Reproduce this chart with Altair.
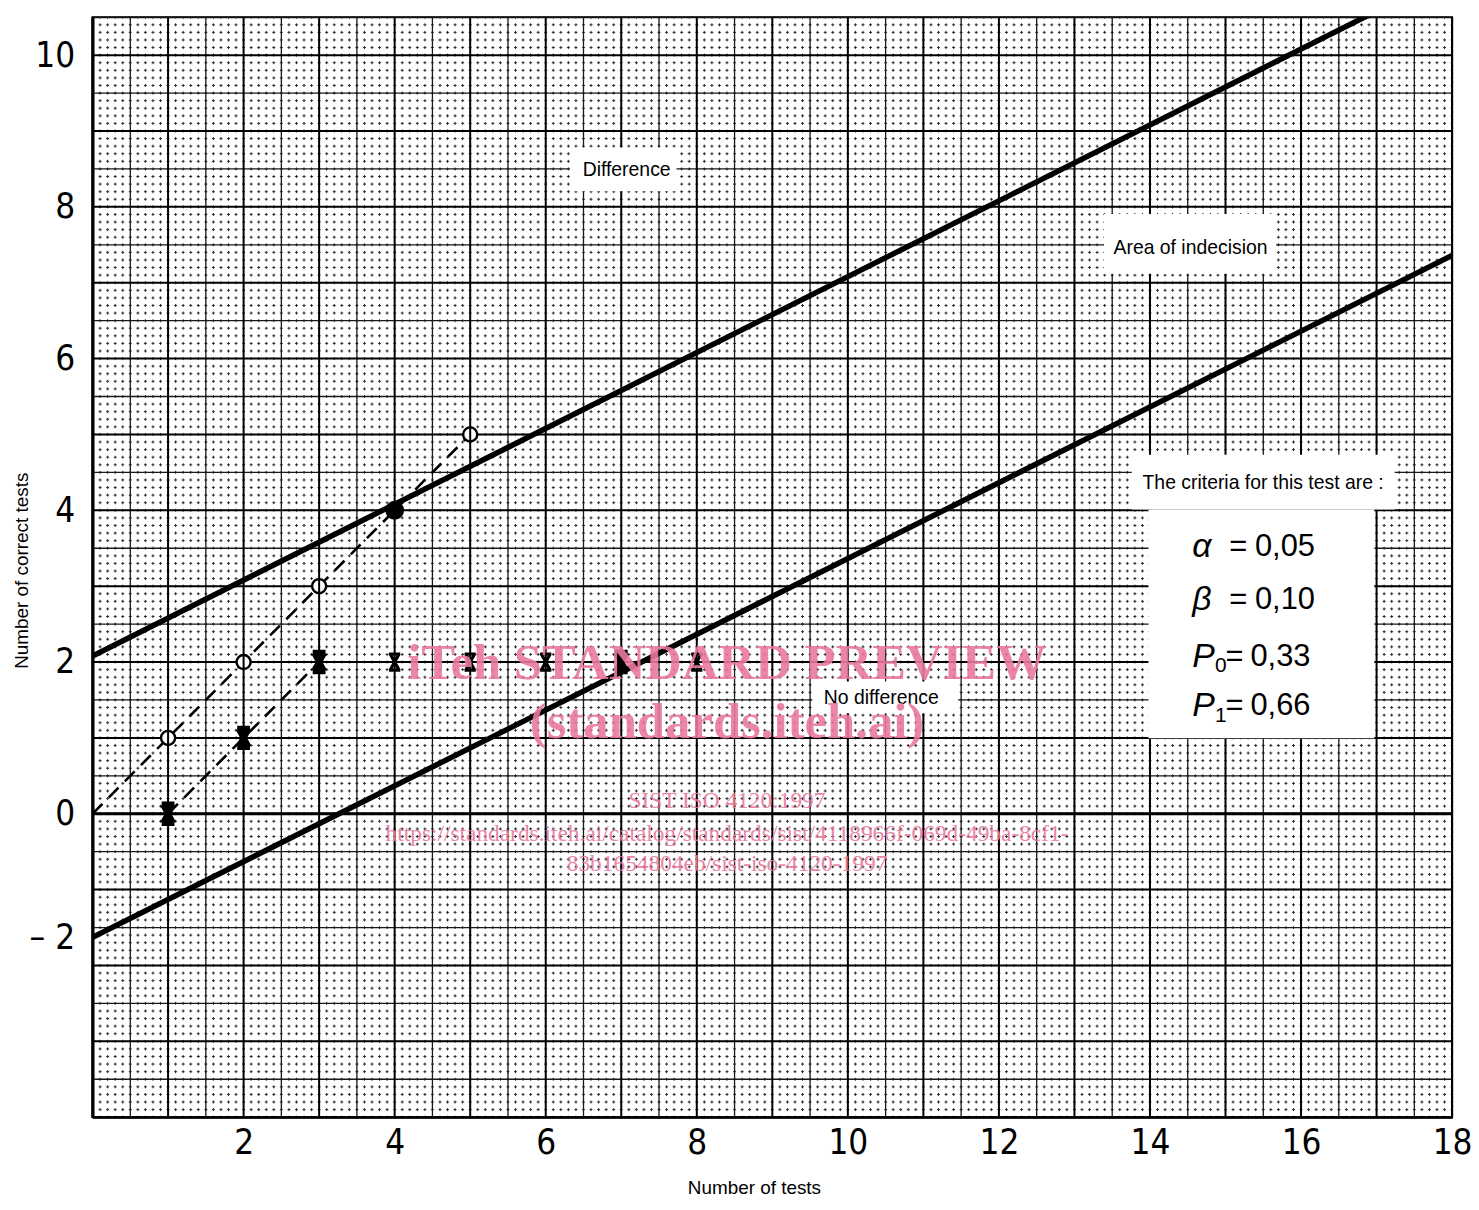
import altair as alt
import numpy as np
import pandas as pd

# ---------------- data ----------------
circle_tests = [1, 2, 3, 4, 5]
circle_correct = [1, 2, 3, 4, 5]
circle_filled = [False, False, False, True, False]

cross_tests = [1, 2, 3, 4, 5, 6, 7, 8]
cross_correct = [0, 1, 2, 2, 2, 2, 2, 2]
cross_heavy = [True, True, True, False, False, False, True, False]

path_a_tests = [0, 1, 2, 3, 4, 5]
path_a_correct = [0, 1, 2, 3, 4, 5]
path_b_tests = [1, 2, 3]
path_b_correct = [0, 1, 2]

upper_tests = [0, 18]
upper_correct = [2.08, 11.08]
lower_tests = [0, 18]
lower_correct = [-1.63, 7.36]

x_ticks = [2, 4, 6, 8, 10, 12, 14, 16, 18]
y_ticks = [10, 8, 6, 4, 2, 0, -1.63]
X_DOM = [0, 18]
Y_DOM = [-4, 10.5]

notes_text = ["Difference", "Area of indecision", "No difference", "The criteria for this test are :"]
notes_x = [7.071, 14.537, 10.442, 15.498]
notes_y = [8.482, 7.460, 1.521, 4.366]

box_x = [6.32, 13.39, 9.53, 13.76, 13.98]
box_x2 = [7.73, 15.67, 11.46, 17.24, 16.97]
box_y = [8.784, 7.905, 1.744, 4.733, 4.012]
box_y2 = [8.207, 7.119, 1.324, 4.012, 0.996]

crit_symbol = ["α", "β", "P", "P"]
crit_sub = ["", "", "0", "1"]
crit_value = ["0,05", "0,10", "0,33", "0,66"]
crit_row_y = [3.514, 2.819, 2.071, 1.416]

wm_text = ["iTeh STANDARD PREVIEW", "(standards.iteh.ai)", "SIST ISO 4120:1997",
           "https://standards.iteh.ai/catalog/standards/sist/4118966f-069d-49ba-8cf1-",
           "83b1654804eb/sist-iso-4120-1997"]
wm_y = [1.967, 1.193, 0.170, -0.262, -0.669]
wm_weight = ["bold", "bold", "normal", "normal", "normal"]

# ---------------- layout ----------------
W, H = 1367, 1106
xs = alt.Scale(domain=X_DOM, nice=False, zero=False)
ys = alt.Scale(domain=Y_DOM, nice=False, zero=False)
px_x = W / (X_DOM[1] - X_DOM[0]) / 10.0
px_y = H / (Y_DOM[1] - Y_DOM[0]) / 10.0

TICK_FONT = "Liberation Sans Narrow, DejaVu Sans Condensed, Liberation Sans, sans-serif"
SANS = "Liberation Sans, Arial, sans-serif"
SERIF = "Liberation Serif, Times New Roman, serif"

x_axis = alt.Axis(values=x_ticks, format="d", ticks=False, grid=False, domain=True,
                  domainColor="black", domainWidth=2, labelFont=TICK_FONT, labelFontSize=35,
                  labelColor="black", labelPadding=9, labelFlush=False, labelOverlap=False,
                  title="Number of tests", titleFont=SANS, titleFontSize=19,
                  titleFontWeight="normal", titleColor="black", titleX=665, titleY=71,
                  titleBaseline="middle")
y_axis = alt.Axis(values=y_ticks, labelExpr="datum.value < -1 ? '– 2' : format(datum.value, 'd')",
                  ticks=False, grid=False, domain=True, domainColor="black", domainWidth=3,
                  labelFont=TICK_FONT, labelFontSize=35, labelColor="black", labelPadding=18,
                  labelAlign="right", labelBaseline="middle", labelFlush=False, labelOverlap=False,
                  title="Number of correct tests", titleFont=SANS, titleFontSize=19,
                  titleFontWeight="normal", titleColor="black", titleX=-71, titleY=556,
                  titleBaseline="middle")


def X(f):
    return alt.X(f, scale=xs, axis=x_axis)


def Y(f):
    return alt.Y(f, scale=ys, axis=y_axis)


# graph-paper grid
gx = np.round(np.arange(0, 180 + 1) / 10.0, 2)
gy = np.round(np.arange(-40, 105 + 1) / 10.0, 2)


def is_half(v):
    return abs(v * 2 - round(v * 2)) < 1e-6 and abs(v - round(v)) > 1e-6


def is_int(v):
    return abs(v - round(v)) < 1e-6


fine_v = pd.DataFrame({"x": gx})
fine_h = pd.DataFrame({"y": gy})
mid_v = pd.DataFrame({"x": [v for v in gx if is_half(v)]})
mid_h = pd.DataFrame({"y": [v for v in gy if is_half(v)]})
thick_v = pd.DataFrame({"x": [v for v in gx if is_int(v)]})
thick_h = pd.DataFrame({"y": [v for v in gy if is_int(v)]})

dash_w = 3.0
l_fine_v = alt.Chart(fine_v).mark_rule(
    color="#2a2a2a", strokeWidth=1, strokeDash=[dash_w, px_y - dash_w], strokeDashOffset=dash_w / 2
).encode(x=X("x:Q"))
l_fine_h = alt.Chart(fine_h).mark_rule(
    color="#2a2a2a", strokeWidth=1, strokeDash=[dash_w, px_x - dash_w], strokeDashOffset=dash_w / 2
).encode(y=Y("y:Q"))
l_mid_v = alt.Chart(mid_v).mark_rule(color="#1a1a1a", strokeWidth=1.3).encode(x=X("x:Q"))
l_mid_h = alt.Chart(mid_h).mark_rule(color="#1a1a1a", strokeWidth=1.3).encode(y=Y("y:Q"))
l_thick_v = alt.Chart(thick_v).mark_rule(color="#000", strokeWidth=2).encode(x=X("x:Q"))
l_thick_h = alt.Chart(thick_h).mark_rule(color="#000", strokeWidth=2).encode(y=Y("y:Q"))

boxes = pd.DataFrame({"x": box_x, "x2": box_x2, "y": box_y, "y2": box_y2})
l_boxes = alt.Chart(boxes).mark_rect(color="white").encode(x=X("x:Q"), x2="x2:Q", y=Y("y:Q"), y2="y2:Q")

l_zero = alt.Chart(pd.DataFrame({"y": [0]})).mark_rule(color="black", strokeWidth=3.2).encode(y=Y("y:Q"))

lines = pd.DataFrame({
    "tests": upper_tests + lower_tests,
    "correct": upper_correct + lower_correct,
    "line": ["upper"] * len(upper_tests) + ["lower"] * len(lower_tests),
})
l_lines = alt.Chart(lines).mark_line(color="black", strokeWidth=5.5, clip=True).encode(
    x=X("tests:Q"), y=Y("correct:Q"), detail="line:N")

paths = pd.DataFrame({
    "tests": path_a_tests + path_b_tests,
    "correct": path_a_correct + path_b_correct,
    "path": ["a"] * len(path_a_tests) + ["b"] * len(path_b_tests),
})
l_paths = alt.Chart(paths).mark_line(color="black", strokeWidth=2.6, strokeDash=[14, 9]).encode(
    x=X("tests:Q"), y=Y("correct:Q"), detail="path:N")

circ = pd.DataFrame({"tests": circle_tests, "correct": circle_correct, "filled": circle_filled})
l_circ_open = alt.Chart(circ).transform_filter("!datum.filled").mark_point(
    shape="circle", size=200, filled=True, fill="white", stroke="black", strokeWidth=2.4, opacity=1
).encode(x=X("tests:Q"), y=Y("correct:Q"))
l_circ_bar = alt.Chart(circ).transform_filter("!datum.filled").mark_point(
    shape="M0,-1L0,1", size=200, filled=False, stroke="black", strokeWidth=2, opacity=1
).encode(x=X("tests:Q"), y=Y("correct:Q"))
l_circ_fill = alt.Chart(circ).transform_filter("datum.filled").mark_point(
    shape="circle", size=360, filled=True, color="black", opacity=1
).encode(x=X("tests:Q"), y=Y("correct:Q"))

crs = pd.DataFrame({"tests": cross_tests, "correct": cross_correct, "heavy": cross_heavy})
xpath = "M-0.7,-1L0.7,-1M-0.7,1L0.7,1M-0.55,-1L0.55,1M0.55,-1L-0.55,1"
l_cross = alt.Chart(crs).transform_filter("!datum.heavy").mark_point(
    shape=xpath, size=260, filled=False, stroke="black", strokeWidth=3.2, opacity=1
).encode(x=X("tests:Q"), y=Y("correct:Q"))
l_cross_heavy = alt.Chart(crs).transform_filter("datum.heavy").mark_point(
    shape=xpath, size=340, filled=False, stroke="black", strokeWidth=6, opacity=1
).encode(x=X("tests:Q"), y=Y("correct:Q"))

notes = pd.DataFrame({"x": notes_x, "y": notes_y, "t": notes_text})
l_notes = alt.Chart(notes).mark_text(font=SANS, fontSize=19.5, color="black", align="center",
                                     baseline="middle").encode(x=X("x:Q"), y=Y("y:Q"), text="t:N")

crit = pd.DataFrame({"sym": crit_symbol, "sub": crit_sub, "val": crit_value, "y": crit_row_y})
crit["is_p"] = crit["sub"] != ""
crit["sym_x"] = 14.56
crit["sub_x"] = 14.86
crit["sub_y"] = crit["y"] - 0.13
crit["eq_x"] = np.where(crit["is_p"], 15.00, 15.05)
crit["val_x"] = np.where(crit["is_p"], 15.33, 15.39)

l_sym = alt.Chart(crit).mark_text(font=SANS, fontSize=34, fontStyle="italic", color="black",
                                  align="left", baseline="middle").encode(
    x=X("sym_x:Q"), y=Y("y:Q"), text="sym:N")
l_sub = alt.Chart(crit).mark_text(font=SANS, fontSize=21, color="black", align="left",
                                  baseline="middle").encode(
    x=X("sub_x:Q"), y=Y("sub_y:Q"), text="sub:N")
l_eq = alt.Chart(crit).mark_text(font=SANS, fontSize=31, color="black", align="left",
                                 baseline="middle", text="=").encode(x=X("eq_x:Q"), y=Y("y:Q"))
l_val = alt.Chart(crit).mark_text(font=SANS, fontSize=31, color="black", align="left",
                                  baseline="middle").encode(x=X("val_x:Q"), y=Y("y:Q"), text="val:N")

wm = pd.DataFrame({"t": wm_text, "y": wm_y, "w": wm_weight})
wm["x"] = 8.40
l_wm_b = alt.Chart(wm).transform_filter("datum.w == 'bold'").mark_text(
    font=SERIF, fontSize=51, fontWeight="bold", color="#e9799d", opacity=0.9,
    align="center", baseline="middle").encode(x=X("x:Q"), y=Y("y:Q"), text="t:N")
l_wm_n = alt.Chart(wm).transform_filter("datum.w == 'normal'").mark_text(
    font=SERIF, fontSize=23.5, color="#e9799d", opacity=0.9,
    align="center", baseline="middle").encode(x=X("x:Q"), y=Y("y:Q"), text="t:N")

chart = alt.layer(
    l_fine_v, l_fine_h, l_mid_v, l_mid_h, l_thick_v, l_thick_h,
    l_boxes, l_zero, l_lines, l_paths,
    l_circ_open, l_circ_bar, l_circ_fill, l_cross, l_cross_heavy,
    l_notes, l_sym, l_sub, l_eq, l_val,
    l_wm_b, l_wm_n,
).properties(
    width=W, height=H,
    autosize=alt.AutoSizeParams(type="none"),
    padding={"left": 85, "top": 6, "right": 19, "bottom": 80},
    background="white",
).configure_view(stroke="black", strokeWidth=2)

chart.save("out.html", embed_options={"renderer": "svg", "actions": False})
